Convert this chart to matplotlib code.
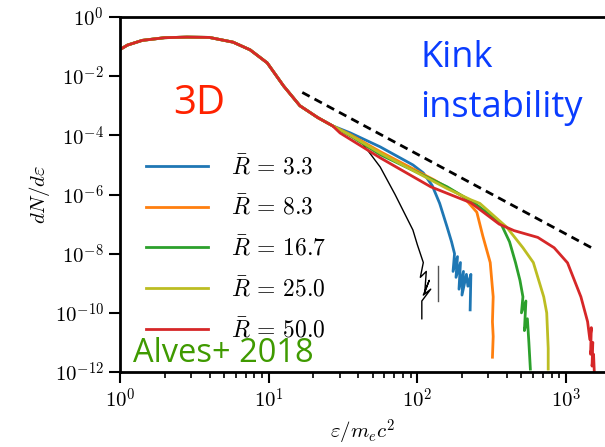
import numpy as np
import matplotlib
matplotlib.use("Agg")
import matplotlib.pyplot as plt

plt.rcParams['mathtext.fontset'] = 'cm'
plt.rcParams['font.family'] = 'serif'

# ---- spectra, stored as log10(energy) / log10(dN/de) ----
common_lx = [0.0, 0.05, 0.15, 0.30, 0.45, 0.60, 0.76, 0.875, 0.99, 1.10, 1.21, 1.33, 1.43]
common_ly = [-1.10, -0.95, -0.79, -0.70, -0.68, -0.69, -0.85, -1.11, -1.55, -2.33, -3.00, -3.40, -3.68]

blue_lx = [1.55, 1.75, 1.97, 2.04, 2.10, 2.15, 2.20, 2.23, 2.25, 2.24, 2.27, 2.26, 2.29, 2.28,
           2.31, 2.30, 2.33, 2.34, 2.36, 2.355]
blue_ly = [-3.92, -4.39, -5.00, -5.27, -5.70, -6.30, -7.10, -7.60, -8.00, -8.60, -8.10, -8.80,
           -8.30, -9.20, -8.60, -9.40, -8.70, -9.10, -8.70, -9.90]

orange_lx = [1.55, 1.75, 2.11, 2.31, 2.40, 2.44, 2.49, 2.51, 2.505, 2.51, 2.505]
orange_ly = [-3.98, -4.55, -5.50, -6.08, -6.60, -7.40, -8.30, -9.46, -10.3, -10.8, -11.5]

green_lx = [1.55, 1.75, 2.20, 2.38, 2.56, 2.62, 2.66, 2.69, 2.71, 2.70, 2.73, 2.72, 2.74, 2.75, 2.76]
green_ly = [-4.02, -4.65, -5.74, -6.28, -6.96, -7.60, -8.30, -8.90, -9.46, -10.0, -9.6, -10.6,
            -10.2, -11.0, -11.9]

olive_lx = [1.55, 1.75, 2.20, 2.36, 2.42, 2.60, 2.71, 2.78, 2.85, 2.87, 2.875, 2.88, 2.88]
olive_ly = [-4.00, -4.60, -5.80, -6.18, -6.30, -7.10, -7.80, -8.30, -9.46, -10.0, -10.6, -11.2, -11.9]

red_lx = [1.48, 1.75, 2.09, 2.36, 2.55, 2.65, 2.81, 2.92, 3.01, 3.10, 3.145, 3.16, 3.17, 3.165,
          3.18, 3.175, 3.185, 3.19]
red_ly = [-3.92, -4.76, -5.74, -6.28, -7.00, -7.22, -7.45, -7.80, -8.31, -9.46, -10.3, -10.9,
          -10.5, -11.4, -11.0, -11.8, -11.4, -12.0]

black_lx = [1.55, 1.62, 1.75, 1.85, 1.97, 2.00, 2.04, 2.02, 2.06, 2.05, 2.08, 2.04, 2.09, 2.03, 2.03]
black_ly = [-3.95, -4.20, -5.07, -6.00, -7.20, -7.70, -8.30, -8.80, -8.60, -9.30, -8.90, -9.40,
            -9.20, -9.60, -10.2]
black_bar_lx = [2.14, 2.14]
black_bar_ly = [-8.4, -9.6]

# power-law guide
guide_lx = [1.226, 3.19]
guide_ly = [-2.55, -7.85]

labels = [r'$\bar{R} \,=\, 3.3$', r'$\bar{R} \,=\, 8.3$', r'$\bar{R} \,=\, 16.7$',
          r'$\bar{R} \,=\, 25.0$', r'$\bar{R} \,=\, 50.0$']
colors = ['#1f77b4', '#ff7f0e', '#2ca02c', '#bcbd22', '#d62728']

xticks = [1e0, 1e1, 1e2, 1e3]
xticklabels = [r'$10^{0}$', r'$10^{1}$', r'$10^{2}$', r'$10^{3}$']
yticks = [1e0, 1e-2, 1e-4, 1e-6, 1e-8, 1e-10, 1e-12]
yticklabels = [r'$10^{0}$', r'$10^{-2}$', r'$10^{-4}$', r'$10^{-6}$',
               r'$10^{-8}$', r'$10^{-10}$', r'$10^{-12}$']

W, H = 605, 447
fig = plt.figure(figsize=(W / 100, H / 100), dpi=100)
ax = fig.add_axes([120 / W, 75 / H, 485 / W, 355 / H])


def full(lx, ly):
    x = np.concatenate([common_lx, lx])
    y = np.concatenate([common_ly, ly])
    return 10**x, 10**y


series = [(blue_lx, blue_ly), (orange_lx, orange_ly), (green_lx, green_ly),
          (olive_lx, olive_ly), (red_lx, red_ly)]

ax.plot(10**np.array(black_lx), 10**np.array(black_ly), color='black', lw=1.0)
ax.plot(10**np.array(black_bar_lx), 10**np.array(black_bar_ly), color='#555555', lw=1.0)
for (lx, ly), c, lab in zip(series, colors, labels):
    x, y = full(lx, ly)
    ax.plot(x, y, color=c, lw=2, label=lab)

ax.plot(10**np.array(guide_lx), 10**np.array(guide_ly), color='black', lw=2, ls=(0, (3, 2)))

ax.set_xscale('log')
ax.set_yscale('log')
ax.set_xlim(1, 10**3.262)
ax.set_ylim(1e-12, 1)
ax.set_xticks(xticks)
ax.set_xticklabels(xticklabels)
ax.set_yticks(yticks)
ax.set_yticklabels(yticklabels)
ax.yaxis.set_minor_locator(matplotlib.ticker.NullLocator())
ax.tick_params(which='major', length=8, width=1.5, labelsize=15, direction='out')
ax.tick_params(which='minor', length=4, width=1.2, direction='out')

ax.spines['right'].set_visible(False)
for s in ['left', 'bottom', 'top']:
    ax.spines[s].set_linewidth(2)

ax.set_xlabel(r'$\varepsilon/m_e c^2$', fontsize=15, labelpad=4)
ax.set_ylabel(r'$dN/d\varepsilon$', fontsize=15, labelpad=2)

ax.legend(loc='upper left', bbox_to_anchor=(0.035, 0.64), frameon=False, fontsize=17,
          handlelength=2.6, handletextpad=1.0, labelspacing=0.68, borderaxespad=0.0)


def label(x, y, s, **kw):
    fig.text(x / W, 1 - y / H, s, family='Open Sans', va='center', **kw)


label(199, 104, '3D', color='#ff2200', fontsize=29, ha='center')
label(420, 58, 'Kink', color='#0a3cff', fontsize=26, ha='left')
label(420, 108, 'instability', color='#0a3cff', fontsize=26, ha='left')
label(133, 353, 'Alves+ 2018', color='#3f9a00', fontsize=23.5, ha='left')

fig.savefig('out.png', dpi=100)
